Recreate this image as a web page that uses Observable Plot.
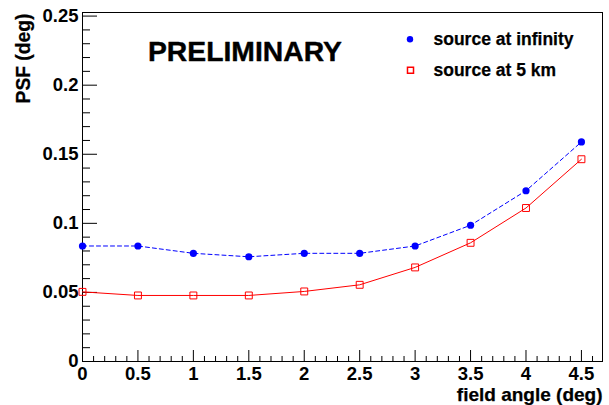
<!DOCTYPE html>
<html><head><meta charset="utf-8">
<script src="https://cdn.jsdelivr.net/npm/d3@7"></script>
<script src="https://cdn.jsdelivr.net/npm/@observablehq/plot@0.6"></script>
<style>body{margin:0;background:#fff}</style>
</head><body><div id="chart"></div>
<script>
const fieldAngle = [0, 0.5, 1, 1.5, 2, 2.5, 3, 3.5, 4, 4.5];
const psfInfinity = [0.0836, 0.0836, 0.0783, 0.0758, 0.0783, 0.0783, 0.0836, 0.0986, 0.1236, 0.1589];
const psf5km = [0.0504, 0.0478, 0.0478, 0.0478, 0.0507, 0.0555, 0.0681, 0.0859, 0.1111, 0.1464];
const seriesNames = ["source at infinity", "source at 5 km"];
const xTicks = [0, 0.5, 1, 1.5, 2, 2.5, 3, 3.5, 4, 4.5];
const xTickLabels = ["0", "0.5", "1", "1.5", "2", "2.5", "3", "3.5", "4", "4.5"];
const yTicks = [0, 0.05, 0.1, 0.15, 0.2, 0.25];
const yTickLabels = ["0", "0.05", "0.1", "0.15", "0.2", "0.25"];
const xMinor = d3.range(0, 47).filter(i => i % 5 !== 0).map(i => i / 10);
const yMinor = d3.range(0, 26).filter(i => i % 5 !== 0).map(i => i / 100);

const W = 609, H = 405, mL = 82, mT = 12, mR = 7, mB = 44;
const innerW = W - mL - mR, innerH = H - mT - mB;
const font = "Liberation Sans, Arial, Helvetica, sans-serif";

const inf = fieldAngle.map((x, i) => ({x, y: psfInfinity[i]}));
const km5 = fieldAngle.map((x, i) => ({x, y: psf5km[i]}));
const xLab = new Map(xTicks.map((t, i) => [t, xTickLabels[i]]));
const yLab = new Map(yTicks.map((t, i) => [t, yTickLabels[i]]));
const heavy = {stroke: "#000", strokeWidth: 0.35, fill: "#000", fontWeight: "bold", fontFamily: font};

const chart = Plot.plot({
  width: W, height: H,
  marginLeft: mL, marginTop: mT, marginRight: mR, marginBottom: mB,
  style: {fontFamily: font, fontWeight: "bold", background: "#fff", color: "#000", overflow: "visible"},
  x: {domain: [0, 4.69], nice: false},
  y: {domain: [0, 0.2526], nice: false},
  marks: [
    Plot.frame({stroke: "#000", strokeWidth: 1}),
    Plot.tickX(xTicks, {x: d => d, stroke: "#000", insetTop: innerH - 11}),
    Plot.tickX(xMinor, {x: d => d, stroke: "#000", insetTop: innerH - 5}),
    Plot.tickY(yTicks, {y: d => d, stroke: "#000", insetRight: innerW - 15}),
    Plot.tickY(yMinor, {y: d => d, stroke: "#000", insetRight: innerW - 8}),
    Plot.axisX(xTicks, {tickSize: 0, tickPadding: 5, tickFormat: d => xLab.get(d), fontSize: 18.5, fontWeight: "bold", fontFamily: font, fill: "#000", label: null}),
    Plot.axisY(yTicks, {tickSize: 0, tickPadding: 4, tickFormat: d => yLab.get(d), fontSize: 18.5, fontWeight: "bold", fontFamily: font, fill: "#000", label: null}),
    Plot.line(inf, {x: "x", y: "y", stroke: "#0000ff", strokeWidth: 1, strokeDasharray: "4,3"}),
    Plot.line(km5, {x: "x", y: "y", stroke: "#ff0000", strokeWidth: 1}),
    Plot.dot(inf, {x: "x", y: "y", r: 3.6, fill: "#0000ff", stroke: "none"}),
    Plot.dot(km5, {x: "x", y: "y", r: 3.9, symbol: "square", fill: "none", stroke: "#ff0000", strokeWidth: 1}),
    // legend
    Plot.dot([seriesNames[0]], {frameAnchor: "top-left", dx: 327.5, dy: 26.8, r: 3.2, fill: "#0000ff", stroke: "none"}),
    Plot.dot([seriesNames[1]], {frameAnchor: "top-left", dx: 328, dy: 57.8, r: 3.4, symbol: "square", fill: "none", stroke: "#ff0000"}),
    Plot.text([seriesNames[0]], {text: d => d, frameAnchor: "top-left", dx: 351, dy: 32, textAnchor: "start", lineAnchor: "bottom", fontSize: 17.5, ...heavy, strokeWidth: 0.25}),
    Plot.text([seriesNames[1]], {text: d => d, frameAnchor: "top-left", dx: 351, dy: 63, textAnchor: "start", lineAnchor: "bottom", fontSize: 17.5, ...heavy, strokeWidth: 0.25}),
    Plot.text(["PRELIMINARY"], {text: d => d, frameAnchor: "top-left", dx: 65.5, dy: 48.5, textAnchor: "start", lineAnchor: "bottom", fontSize: 28.3, ...heavy, strokeWidth: 0.4}),
    // axis titles
    Plot.text(["field angle (deg)"], {text: d => d, frameAnchor: "bottom-right", dx: 0, dy: 39, textAnchor: "end", lineAnchor: "bottom", fontSize: 19, ...heavy, strokeWidth: 0.25}),
    Plot.text(["PSF (deg)"], {text: d => d, frameAnchor: "top-left", dx: -53, dy: 1, rotate: -90, textAnchor: "end", lineAnchor: "bottom", fontSize: 19.3, ...heavy, strokeWidth: 0.25})
  ]
});
document.getElementById("chart").appendChild(chart);
</script>
</body></html>
